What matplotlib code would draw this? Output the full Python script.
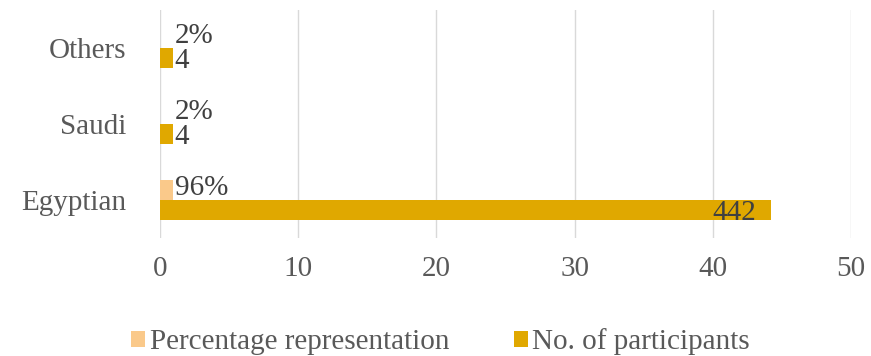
import matplotlib
matplotlib.use("Agg")
import matplotlib.pyplot as plt
import numpy as np

categories = ["Egyptian", "Saudi", "Others"]
percent_values = [0.96, 0.02, 0.02]
percent_labels = ["96%", "2%", "2%"]
participant_values = [44.2, 0.95, 0.95]
participant_labels = ["442", "4", "4"]
xticks = [0, 10, 20, 30, 40, 50]

plt.rcParams['font.family'] = ['Liberation Serif', 'DejaVu Serif']
tick_color = "#595959"
label_color = "#404040"
c_pct = "#FAC98A"
c_part = "#E0A800"

fig = plt.figure(figsize=(8.71, 3.56), dpi=100)
ax = fig.add_axes([160/871, 1-238/356, (851-160)/871, 228/356])

y = np.arange(len(categories))
h = 0.26
ax.barh(y + h/2, percent_values, height=h, color=c_pct, label="Percentage representation", zorder=3)
ax.barh(y - h/2, participant_values, height=h, color=c_part, label="No. of participants", zorder=3)

fs = 21
for i in range(len(categories)):
    ax.text(max(percent_values[i], 0.95) + 0.1, y[i] + h/2 + 0.03, percent_labels[i],
            ha="left", va="center", fontsize=fs, color=label_color, zorder=4)
    if participant_values[i] > 5:
        ax.text(participant_values[i] - 1.1, y[i] - h/2 - 0.04, participant_labels[i],
                ha="right", va="center", fontsize=fs, color=label_color, zorder=4)
    else:
        ax.text(participant_values[i] + 0.1, y[i] - h/2 - 0.04, participant_labels[i],
                ha="left", va="center", fontsize=fs, color=label_color, zorder=4)

ax.set_xlim(0, 50)
ax.set_ylim(-0.5, 2.5)
ax.set_xticks(xticks)
ax.set_xticklabels([str(t) for t in xticks])
ax.set_yticks(y)
ax.set_yticklabels(categories)
ax.tick_params(axis="both", length=0, labelsize=fs, colors=tick_color)
ax.tick_params(axis="x", pad=13)
ax.tick_params(axis="y", pad=24)
ax.grid(axis="x", color="#D9D9D9", linewidth=1, zorder=0)
for s in ax.spines.values():
    s.set_visible(False)

ax.legend(loc="upper center", bbox_to_anchor=(0.5 - 65/691, -0.345), ncol=2, frameon=False,
          fontsize=fs, labelcolor=tick_color, handlelength=0.5, handleheight=0.5,
          handletextpad=0.15, columnspacing=2.2, borderaxespad=0)

fig.savefig("out.png", dpi=100)
